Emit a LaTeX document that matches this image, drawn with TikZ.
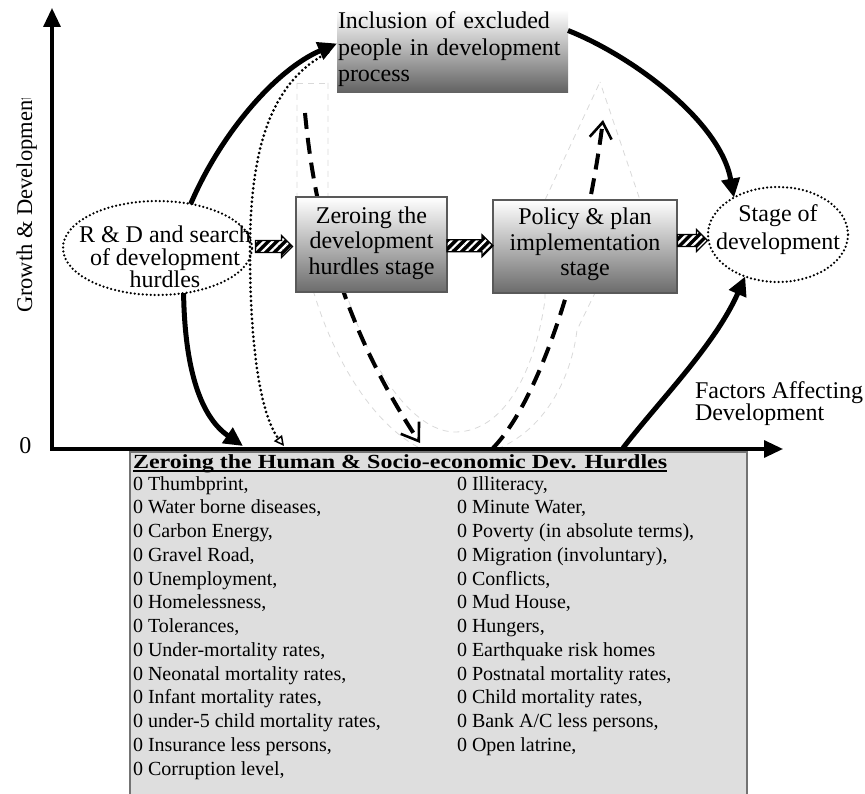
\documentclass[tikz,border=0pt]{standalone}
\usepackage{fontspec}
\setmainfont{Liberation Serif}
\usetikzlibrary{shapes.geometric,arrows.meta,patterns.meta}
\tikzset{
  hatchfill/.style={draw=black, line width=1.2pt, preaction={fill=black},
    pattern={Lines[angle=45,distance=6pt,line width=2.2pt]}, pattern color=white},
  hatcharr/.pic={
    \path[hatchfill] (-#1,-6) -- (#1-11,-6) -- (#1-11,-11) -- (#1,0) -- (#1-11,11) -- (#1-11,6) -- (-#1,6) -- cycle;
  },
}
\begin{document}
\begin{tikzpicture}[x=1pt,y=-1pt,
  every node/.style={inner sep=0pt,outer sep=0pt},
  axisline/.style={line width=3.3pt, line join=miter},
  bigcurve/.style={line width=5pt, -{Triangle[length=19pt,width=18pt]}},
  dashcurve/.style={line width=4pt, dash pattern=on 16pt off 9pt, -{Straight Barb[length=16pt,width=22pt,line width=2.6pt]}},
  dotcurve/.style={line width=3pt, line cap=round, dash pattern=on 0pt off 4.5pt, -{Triangle[open,length=10pt,width=10pt,line width=1.5pt]}},
  shadowline/.style={draw=black!15, line width=0.8pt, dash pattern=on 6pt off 5pt},
  stagebox/.style={draw=black!65, line width=2pt, top color=white, bottom color=black!58, align=center, font=\fontsize{24}{25.5}\selectfont, text height=68pt, text depth=9pt},
  inclbox/.style={top color=white, bottom color=black!62, align=left, font=\fontsize{24}{26.5}\selectfont, text height=17pt, text depth=62pt},
  oval/.style={ellipse, draw, line width=2.5pt, line cap=round, dash pattern=on 0pt off 4pt},
  bigtxt/.style={font=\fontsize{24}{22.5}\selectfont, align=center, text height=62pt, text depth=5pt},
  item/.style={font=\fontsize{20}{23.75}\selectfont, anchor=base west},
]
\useasboundingbox (0,0) rectangle (865,794);

% faint shadow band
\draw[shadowline] (297,83) -- (328,83);
\draw[shadowline] (297,83) -- (297,200) .. controls (305,330) and (380,457) .. (455,457) .. controls (530,457) and (570,390) .. (577,330) -- (640,200) -- (600,82);
\draw[shadowline] (328,83) -- (328,200) .. controls (338,320) and (400,432) .. (455,432) .. controls (505,432) and (535,370) .. (545,300) -- (545,200) -- (600,82);

% axes
\coordinate (O) at (52,449);
\coordinate (ytip) at (52,8);
\coordinate (xtip) at (783,449);
\draw[axisline, {Triangle[length=19pt,width=17pt]}-{Triangle[length=19pt,width=17pt]}] (ytip) -- (O) -- (xtip);

% bottom list box
\node[draw=black!55, line width=1.5pt, fill=black!13, minimum width=617pt, minimum height=360pt, anchor=north west] (list) at (130,452) {};
\node[anchor=base west, font=\fontsize{20}{24}\selectfont\bfseries] (title) at (133,468) {\scalebox{1.2}[1]{Zeroing the Human \& Socio-economic Dev. Hurdles}};
\draw[line width=1.3pt] ([yshift=-3pt]title.base west) -- ([yshift=-3pt]title.base east);
\foreach \t [count=\i from 0] in {{0 Thumbprint,},{0 Water borne diseases,},{0 Carbon Energy,},{0 Gravel Road,},{0 Unemployment,},{0 Homelessness,},{0 Tolerances,},{0 Under-mortality rates,},{0 Neonatal mortality rates,},{0 Infant mortality rates,},{0 under-5 child mortality rates,},{0 Insurance less persons,},{0 Corruption level,}}
  \node[item] (l\i) at (133,490+23.75*\i) {\t};
\foreach \t [count=\i from 0] in {{0 Illiteracy,},{0 Minute Water,},{0 Poverty (in absolute terms),},{0 Migration (involuntary),},{0 Conflicts,},{0 Mud House,},{0 Hungers,},{0 Earthquake risk homes},{0 Postnatal mortality rates,},{0 Child mortality rates,},{0 Bank A/C less persons,},{0 Open latrine,}}
  \node[item] (r\i) at (457,490+23.75*\i) {\t};

% free ends
\coordinate (c3e) at (243,446);
\coordinate (c4s) at (623,448);
\coordinate (dte) at (284,446);
\coordinate (d1s) at (305,113);
\coordinate (d1e) at (420,443);
\coordinate (d2s) at (493,448);
\coordinate (d2e) at (603,120);

% dashed arrows (behind boxes)
\draw[dashcurve] (d1s) .. controls (315,220) and (345,330) .. (d1e);
\draw[dashcurve] (d2s) .. controls (540,400) and (585,260) .. (d2e);

% ellipses
\node[oval, minimum width=189pt, minimum height=94pt] (rd) at (157.5,248) {};
\node[bigtxt] (rdtxt) at (165,259.5) {R \& D and search\\of development\\hurdles};
\node[oval, minimum width=140pt, minimum height=95pt] (sd) at (778,234.5) {};
\node[bigtxt, font=\fontsize{24}{28}\selectfont, text height=45pt] (sdtxt) at (778,230) {Stage of\\development};

% boxes
\node[stagebox, minimum width=151pt, minimum height=95pt] (b1) at (371.5,245) {Zeroing the\\development\\hurdles stage};
\node[stagebox, minimum width=184pt, minimum height=93pt] (b2) at (585,246.5) {Policy \& plan\\implementation\\stage};
\node[inclbox, anchor=north west, minimum width=231pt, minimum height=83pt, text width=229pt, inner xsep=1pt] (incl) at (337,10) {Inclusion of excluded\\people in development\\process};

% solid curves
\draw[bigcurve] (rd.53) .. controls (220,135) and (275,70) .. ([yshift=8pt]incl.west);
\draw[bigcurve] ([yshift=21pt]incl.east) .. controls (630,55) and (720,120) .. (sd.140);
\draw[bigcurve] (rd.-60) .. controls (185,380) and (205,420) .. (c3e);
\draw[bigcurve] (c4s) .. controls (660,400) and (715,345) .. (sd.232);

% dotted curve
\draw[dotcurve] ([xshift=-9pt,yshift=-1pt]incl.west) .. controls (275,80) and (250,140) .. (250,250) .. controls (250,380) and (268,425) .. (dte);

% hatched block arrows
\path (rd.east) -- (b1.west) coordinate[pos=0.5] (h1);
\path (b1.east) -- (b2.west) coordinate[pos=0.5] (h2);
\path (b2.east) -- (sd.west) coordinate[pos=0.5] (h3);
\pic at (h1) {hatcharr=18.5};
\pic at (h2) {hatcharr=23};
\pic at (h3) {hatcharr=15};

% labels
\node[font=\fontsize{24}{22}\selectfont, align=left, anchor=west, text height=39pt, text depth=5pt] (fac) at (695,403) {Factors Affecting\\Development};
\node[font=\fontsize{24}{28}\selectfont, anchor=base] (zero) at (25.5,453) {0};
\begin{scope}
\clip (0,99) rectangle (50,330);
\node[font=\fontsize{22.5}{27}\selectfont, rotate=90, anchor=base west] (ylab) at (32,313) {Growth \& Development};
\end{scope}
\end{tikzpicture}
\end{document}
